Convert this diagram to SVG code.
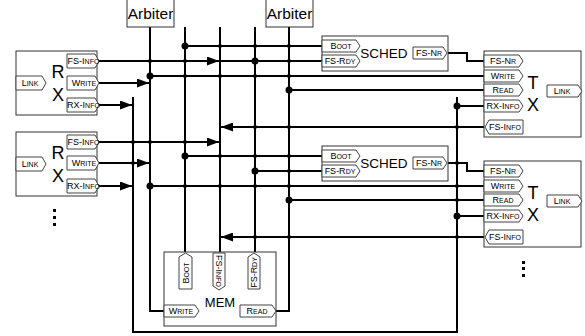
<svg xmlns="http://www.w3.org/2000/svg" width="585" height="336" viewBox="0 0 585 336">
<defs>
<marker id="ah" markerWidth="12" markerHeight="9" refX="12" refY="4.5" orient="auto" markerUnits="userSpaceOnUse"><path d="M0,0 L12,4.5 L0,9 Z" fill="#000"/></marker>
<style>
.w{fill:none;stroke:#000;stroke-width:2}
.a{fill:none;stroke:#000;stroke-width:2;marker-end:url(#ah)}
.box{fill:#fff;stroke:#333;stroke-width:1}
.port{fill:#fff;stroke:#444;stroke-width:1}
.p{font-family:"Liberation Sans",Arial,sans-serif;font-size:9px;fill:#000;text-anchor:middle}
.s{font-size:7px}
.big{font-family:"Liberation Sans",Arial,sans-serif;font-size:18px;fill:#000;text-anchor:middle}
.lbl{font-family:"Liberation Sans",Arial,sans-serif;fill:#000;text-anchor:middle}
.d{fill:#000}
</style>
</defs>
<rect width="585" height="336" fill="#fff"/>

<g id="connectors">
<path class="w" d="M133,97 V332 H457 V97"/>
<path class="w" d="M150,27 V311 H164"/>
<path class="w" d="M185,27 V253"/>
<path class="w" d="M220,27 V253"/>
<path class="w" d="M255,27 V253"/>
<path class="w" d="M289,27 V311 H276"/>
<path class="w" d="M185,46 H322"/>
<path class="a" d="M99,61 H219"/>
<path class="w" d="M219,61 H322"/>
<path class="w" d="M150,76 H484"/>
<path class="a" d="M99,83 H149"/>
<path class="w" d="M289,90 H484"/>
<path class="a" d="M99,105 H132"/>
<path class="w" d="M457,106 H484"/>
<path class="a" d="M484,127 H221"/>
<path class="w" d="M447,53 H467 V61 H484"/>
<path class="a" d="M99,142 H219"/>
<path class="w" d="M185,156 H322"/>
<path class="a" d="M99,163 H149"/>
<path class="w" d="M447,163 H467 V171 H484"/>
<path class="w" d="M255,171 H322"/>
<path class="a" d="M99,186 H132"/>
<path class="w" d="M150,186 H484"/>
<path class="w" d="M289,200 H484"/>
<path class="w" d="M457,216 H484"/>
<path class="a" d="M484,237 H221"/>
<g class="d">
<circle cx="185" cy="46" r="3.5"/><circle cx="255" cy="61" r="3.5"/><circle cx="150" cy="76" r="3.5"/>
<circle cx="289" cy="90" r="3.5"/><circle cx="457" cy="106" r="3.5"/><circle cx="185" cy="156" r="3.5"/>
<circle cx="255" cy="171" r="3.5"/><circle cx="150" cy="186" r="3.5"/><circle cx="289" cy="200" r="3.5"/>
<circle cx="457" cy="216" r="3.5"/>
<circle cx="220" cy="46" r="2"/><circle cx="255" cy="46" r="2"/><circle cx="289" cy="46" r="2"/>
<circle cx="150" cy="61" r="2"/><circle cx="185" cy="61" r="2"/><circle cx="289" cy="61" r="2"/>
<circle cx="185" cy="76" r="2"/><circle cx="220" cy="76" r="2"/><circle cx="255" cy="76" r="2"/><circle cx="289" cy="76" r="2"/>
<circle cx="255" cy="127" r="2"/><circle cx="289" cy="127" r="2"/><circle cx="457" cy="127" r="2"/>
<circle cx="133" cy="142" r="2"/><circle cx="150" cy="142" r="2"/><circle cx="185" cy="142" r="2"/>
<circle cx="220" cy="156" r="2"/><circle cx="255" cy="156" r="2"/><circle cx="289" cy="156" r="2"/>
<circle cx="133" cy="163" r="2"/><circle cx="457" cy="163" r="2"/><circle cx="289" cy="171" r="2"/>
<circle cx="185" cy="186" r="2"/><circle cx="220" cy="186" r="2"/><circle cx="255" cy="186" r="2"/><circle cx="289" cy="186" r="2"/><circle cx="457" cy="186" r="2"/>
<circle cx="457" cy="200" r="2"/>
<circle cx="255" cy="237" r="2"/><circle cx="289" cy="237" r="2"/><circle cx="457" cy="237" r="2"/>
</g>
</g>

<g id="arbiter1">
<rect class="box" x="127" y="-1" width="47" height="28"/>
<text class="lbl" x="150.5" y="19" font-size="15.5">Arbiter</text>
</g>
<g id="arbiter2">
<rect class="box" x="266" y="-1" width="47" height="28"/>
<text class="lbl" x="289.5" y="19" font-size="15.5">Arbiter</text>
</g>

<g id="rx1">
<rect class="box" x="16" y="51" width="81" height="64"/>
<path class="port" d="M16,76 H42 L46,83 L42,90 H16 Z"/>
<text class="p" x="30" y="86.2">L<tspan class="s">INK</tspan></text>
<path class="port" d="M67,54 H95 L99,61 L95,68 H67 Z"/>
<text class="p" x="83.5" y="64.2">FS-I<tspan class="s">NFO</tspan></text>
<path class="port" d="M67,76 H95 L99,83 L95,90 H67 Z"/>
<text class="p" x="84" y="86.2">W<tspan class="s">RITE</tspan></text>
<path class="port" d="M67,98 H95 L99,105 L95,112 H67 Z"/>
<text class="p" x="83.5" y="108.2">RX-I<tspan class="s">NFO</tspan></text>
<text class="big" x="58" y="77.5">R</text>
<text class="big" x="58" y="100.5">X</text>
</g>

<g id="rx2">
<rect class="box" x="16" y="132" width="81" height="64"/>
<path class="port" d="M16,157 H42 L46,164 L42,171 H16 Z"/>
<text class="p" x="30" y="167.2">L<tspan class="s">INK</tspan></text>
<path class="port" d="M67,135 H95 L99,142 L95,149 H67 Z"/>
<text class="p" x="83.5" y="145.2">FS-I<tspan class="s">NFO</tspan></text>
<path class="port" d="M67,156 H95 L99,163 L95,170 H67 Z"/>
<text class="p" x="84" y="166.2">W<tspan class="s">RITE</tspan></text>
<path class="port" d="M67,179 H95 L99,186 L95,193 H67 Z"/>
<text class="p" x="83.5" y="189.2">RX-I<tspan class="s">NFO</tspan></text>
<text class="big" x="58" y="158.5">R</text>
<text class="big" x="58" y="181.5">X</text>
</g>

<g id="sched1">
<rect class="box" x="322" y="36" width="126" height="35"/>
<path class="port" d="M322,40 H356 L360,46 L356,52 H322 Z"/>
<text class="p" x="341" y="49.2">B<tspan class="s">OOT</tspan></text>
<path class="port" d="M322,55 H356 L360,61 L356,67 H322 Z"/>
<text class="p" x="340" y="64.2">FS-R<tspan class="s">DY</tspan></text>
<text class="lbl" x="384" y="58" font-size="13.5">SCHED</text>
<path class="port" d="M413,47 H443 L447,53 L443,59 H413 Z"/>
<text class="p" x="429" y="56.2">FS-N<tspan class="s">R</tspan></text>
</g>

<g id="sched2">
<rect class="box" x="322" y="146" width="126" height="35"/>
<path class="port" d="M322,150 H356 L360,156 L356,162 H322 Z"/>
<text class="p" x="341" y="159.2">B<tspan class="s">OOT</tspan></text>
<path class="port" d="M322,165 H356 L360,171 L356,177 H322 Z"/>
<text class="p" x="340" y="174.2">FS-R<tspan class="s">DY</tspan></text>
<text class="lbl" x="384" y="168" font-size="13.5">SCHED</text>
<path class="port" d="M413,157 H443 L447,163 L443,169 H413 Z"/>
<text class="p" x="429" y="166.2">FS-N<tspan class="s">R</tspan></text>
</g>

<g id="tx1">
<rect class="box" x="484" y="51" width="97" height="86"/>
<path class="port" d="M484,55 H519 L523,61 L519,67 H484 Z"/>
<text class="p" x="503" y="64.2">FS-N<tspan class="s">R</tspan></text>
<path class="port" d="M484,70 H519 L523,76 L519,82 H484 Z"/>
<text class="p" x="503" y="79.2">W<tspan class="s">RITE</tspan></text>
<path class="port" d="M484,84 H519 L523,90 L519,96 H484 Z"/>
<text class="p" x="503" y="93.2">R<tspan class="s">EAD</tspan></text>
<path class="port" d="M484,100 H519 L523,106 L519,112 H484 Z"/>
<text class="p" x="503" y="109.2">RX-I<tspan class="s">NFO</tspan></text>
<path class="port" d="M489,120 H523 V134 H489 L485,127 Z"/>
<text class="p" x="505" y="130.2">FS-I<tspan class="s">NFO</tspan></text>
<path class="port" d="M547,85 H578 L582,91 L578,97 H547 Z"/>
<text class="p" x="562" y="94.2">L<tspan class="s">INK</tspan></text>
<text class="big" x="533" y="88.5">T</text>
<text class="big" x="533" y="110.5">X</text>
</g>

<g id="tx2">
<rect class="box" x="484" y="161" width="97" height="86"/>
<path class="port" d="M484,165 H519 L523,171 L519,177 H484 Z"/>
<text class="p" x="503" y="174.2">FS-N<tspan class="s">R</tspan></text>
<path class="port" d="M484,180 H519 L523,186 L519,192 H484 Z"/>
<text class="p" x="503" y="189.2">W<tspan class="s">RITE</tspan></text>
<path class="port" d="M484,194 H519 L523,200 L519,206 H484 Z"/>
<text class="p" x="503" y="203.2">R<tspan class="s">EAD</tspan></text>
<path class="port" d="M484,210 H519 L523,216 L519,222 H484 Z"/>
<text class="p" x="503" y="219.2">RX-I<tspan class="s">NFO</tspan></text>
<path class="port" d="M489,230 H523 V244 H489 L485,237 Z"/>
<text class="p" x="505" y="240.2">FS-I<tspan class="s">NFO</tspan></text>
<path class="port" d="M547,195 H578 L582,201 L578,207 H547 Z"/>
<text class="p" x="562" y="204.2">L<tspan class="s">INK</tspan></text>
<text class="big" x="533" y="198.5">T</text>
<text class="big" x="533" y="220.5">X</text>
</g>

<g id="mem">
<rect class="box" x="164" y="252" width="112" height="74"/>
<path class="port" d="M179,257 L185.5,253 L192,257 V289 H179 Z"/>
<text class="p" transform="translate(188.7,273) rotate(-90)">B<tspan class="s">OOT</tspan></text>
<path class="port" d="M213,253 H225 V286 L219,290 L213,286 Z"/>
<text class="p" transform="translate(215.8,271) rotate(90)">FS-I<tspan class="s">NFO</tspan></text>
<path class="port" d="M248,257 L254,253 L260,257 V289 H248 Z"/>
<text class="p" transform="translate(257.2,272.5) rotate(-90)">FS-R<tspan class="s">DY</tspan></text>
<text class="lbl" x="220" y="307" font-size="13">MEM</text>
<path class="port" d="M164,305 H195 L199,311 L195,317 H164 Z"/>
<text class="p" x="181" y="314.2">W<tspan class="s">RITE</tspan></text>
<path class="port" d="M240,305 H272 L276,311 L272,317 H240 Z"/>
<text class="p" x="257" y="314.2">R<tspan class="s">EAD</tspan></text>
</g>

<g id="ellipses" class="d">
<rect x="53" y="209" width="3" height="3"/><rect x="53" y="216" width="3" height="3"/><rect x="53" y="223" width="3" height="3"/>
<rect x="522" y="261" width="3" height="3"/><rect x="522" y="267" width="3" height="3"/><rect x="522" y="274" width="3" height="3"/>
</g>
</svg>
